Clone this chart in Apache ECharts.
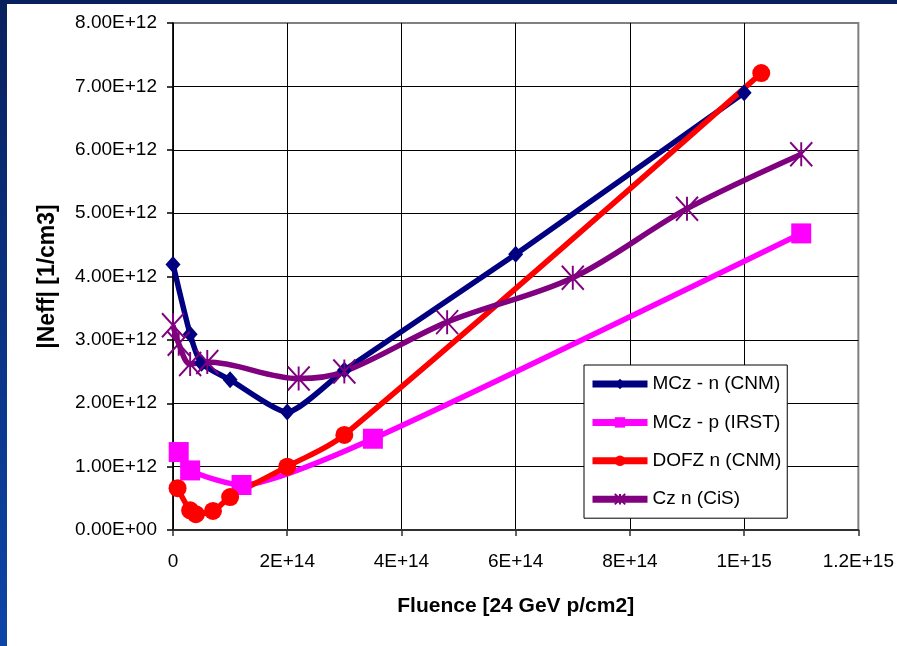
<!DOCTYPE html>
<html>
<head>
<meta charset="utf-8">
<script src="https://cdn.jsdelivr.net/npm/echarts@6/dist/echarts.min.js"></script>
<style>
html,body{margin:0;padding:0;background:#0b2a6b;}
#chart{width:897px;height:646px;}
</style>
</head>
<body>
<div id="chart"></div>
<script>
// ---- data ----
const xTickLabels = ['0', '2E+14', '4E+14', '6E+14', '8E+14', '1E+15', '1.2E+15'];
const yTickLabels = ['0.00E+00', '1.00E+12', '2.00E+12', '3.00E+12', '4.00E+12', '5.00E+12', '6.00E+12', '7.00E+12', '8.00E+12'];

const seriesNames = ['MCz - n (CNM)', 'MCz - p (IRST)', 'DOFZ n (CNM)', 'Cz n (CiS)'];

const mczN_x = [0, 3e13, 5e13, 1e14, 2e14, 3e14, 6e14, 1e15];
const mczN_y = [4.19e12, 3.09e12, 2.63e12, 2.37e12, 1.86e12, 2.52e12, 4.35e12, 6.90e12];

const mczP_x = [1e13, 3e13, 1.2e14, 3.5e14, 1.1e15];
const mczP_y = [1.23e12, 0.94e12, 0.71e12, 1.44e12, 4.68e12];

const dofz_x = [8e12, 3e13, 4e13, 7e13, 1e14, 2e14, 3e14, 1.03e15];
const dofz_y = [0.66e12, 0.31e12, 0.25e12, 0.30e12, 0.52e12, 1.00e12, 1.50e12, 7.21e12];

const cz_x = [0, 1e13, 3e13, 6e13, 2.2e14, 3e14, 4.8e14, 7e14, 9e14, 1.1e15];
const cz_y = [3.23e12, 2.94e12, 2.62e12, 2.65e12, 2.39e12, 2.50e12, 3.28e12, 3.98e12, 5.07e12, 5.93e12];

// ---- build ----
function pairs(xs, ys) { return xs.map((x, i) => [x, ys[i]]); }
const FONT = 'Liberation Sans, Arial, sans-serif';
const starPath = 'path://M0,0L20,24M20,0L0,24M10,0L10,24';

const chart = echarts.init(document.getElementById('chart'), null, {renderer: 'canvas'});

const option = {
  backgroundColor: 'transparent',
  animation: false,
  graphic: [
    {type: 'rect', left: 0, top: 0, z: -10, shape: {width: 897, height: 646},
     style: {fill: new echarts.graphic.LinearGradient(0, 0, 0, 1, [{offset: 0, color: '#08205e'}, {offset: 1, color: '#0d45a8'}])}},
    {type: 'rect', left: 7, top: 4, z: -9, shape: {width: 890, height: 642}, style: {fill: '#ffffff'}}
  ],
  grid: {left: 173, top: 23, right: 36, bottom: 116, show: true, borderColor: '#808080', borderWidth: 2, backgroundColor: 'transparent'},
  legend: {
    orient: 'vertical',
    left: 584, top: 365,
    padding: [9, 6, 9, 5],
    itemWidth: 55, itemHeight: 13, itemGap: 18.4,
    backgroundColor: '#ffffff',
    borderColor: '#000000', borderWidth: 1,
    lineStyle: {width: 7},
    textStyle: {fontFamily: FONT, fontSize: 19, color: '#000', lineHeight: 20},
    data: seriesNames
  },
  xAxis: {
    type: 'value', min: 0, max: 1.2e15, interval: 2e14,
    name: 'Fluence [24 GeV p/cm2]', nameLocation: 'middle', nameGap: 66,
    nameTextStyle: {fontFamily: FONT, fontSize: 21, fontWeight: 'bold', color: '#000'},
    axisLine: {show: true, onZero: false, lineStyle: {color: '#303030', width: 2}},
    axisTick: {show: true, inside: false, length: 6, lineStyle: {color: '#303030', width: 1.5}},
    axisLabel: {margin: 22, fontFamily: FONT, fontSize: 19, color: '#000',
      formatter: v => xTickLabels[Math.round(v / 2e14)]},
    splitLine: {show: true, showMaxLine: false, lineStyle: {color: '#000', width: 1}}
  },
  yAxis: {
    type: 'value', min: 0, max: 8e12, interval: 1e12,
    name: '|Neff| [1/cm3]', nameLocation: 'middle', nameGap: 114, nameRotate: 90,
    nameTextStyle: {fontFamily: FONT, fontSize: 23, fontWeight: 'bold', color: '#000'},
    axisLine: {show: true, onZero: false, lineStyle: {color: '#000', width: 1.5}},
    axisTick: {show: true, inside: false, length: 6, lineStyle: {color: '#000', width: 1.5}},
    axisLabel: {margin: 16, fontFamily: FONT, fontSize: 19, color: '#000',
      formatter: v => yTickLabels[Math.round(v / 1e12)]},
    splitLine: {show: true, showMaxLine: false, lineStyle: {color: '#000', width: 1}}
  },
  series: [
    {name: seriesNames[0], type: 'line', data: pairs(mczN_x, mczN_y), smooth: 0.2,
     symbol: 'diamond', symbolSize: [15, 17], showAllSymbol: true,
     lineStyle: {color: '#000080', width: 5.5}, itemStyle: {color: '#000080'}},
    {name: seriesNames[1], type: 'line', data: pairs(mczP_x, mczP_y), smooth: 0.22,
     symbol: 'rect', symbolSize: 20, showAllSymbol: true,
     lineStyle: {color: '#ff00ff', width: 5.5}, itemStyle: {color: '#ff00ff'}},
    {name: seriesNames[2], type: 'line', data: pairs(dofz_x, dofz_y), smooth: 0.33,
     symbol: 'circle', symbolSize: 18, showAllSymbol: true,
     lineStyle: {color: '#ff0000', width: 5.5}, itemStyle: {color: '#ff0000'}},
    {name: seriesNames[3], type: 'line', data: pairs(cz_x, cz_y), smooth: 0.33,
     symbol: starPath, symbolSize: [22, 24], showAllSymbol: true,
     lineStyle: {color: '#800080', width: 5.5},
     itemStyle: {color: 'rgba(0,0,0,0)', borderColor: '#800080', borderWidth: 2}}
  ]
};
chart.setOption(option);
</script>
</body>
</html>
